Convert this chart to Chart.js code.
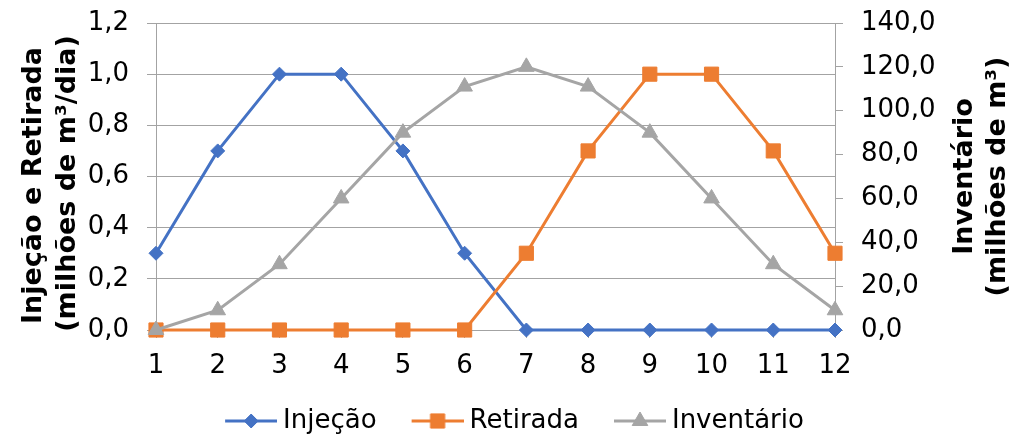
<!DOCTYPE html>
<html>
<head>
<meta charset="utf-8">
<script src="https://cdn.jsdelivr.net/npm/chart.js@4/dist/chart.umd.min.js"></script>
<style>
  html, body { margin: 0; padding: 0; background: #ffffff; }
  #wrap { width: 1012px; height: 436px; position: relative; }
</style>
</head>
<body>
<div id="wrap"><canvas id="chart"></canvas></div>
<script>
// Meses do ciclo anual
const months = ['1', '2', '3', '4', '5', '6', '7', '8', '9', '10', '11', '12'];

// Vazões (milhões de m³/dia)
const injecao  = [0.3, 0.7, 1.0, 1.0, 0.7, 0.3, 0, 0, 0, 0, 0, 0];
const retirada = [0, 0, 0, 0, 0, 0, 0.3, 0.7, 1.0, 1.0, 0.7, 0.3];

// Volume armazenado (milhões de m³)
const inventario = [0, 9, 30, 60, 90, 111, 120, 111, 90, 60, 30, 9];

const seriesNames = ['Injeção', 'Retirada', 'Inventário'];

const leftTickLabels  = ['0,0', '0,2', '0,4', '0,6', '0,8', '1,0', '1,2'];
const rightTickLabels = ['0,0', '20,0', '40,0', '60,0', '80,0', '100,0', '120,0', '140,0'];

const leftTitle  = ['Injeção e Retirada', '(milhões de m³/dia)'];
const rightTitle = ['Inventário', '(milhões de m³)'];

const FONT = '"DejaVu Sans", Verdana, sans-serif';
const GRID = '#a3a3a3';
const BLUE = '#4472C4', ORANGE = '#ED7D31', GRAY = '#A5A5A5';

// Marker shapes used both on the lines and in the legend icons
function drawMarker(ctx, style, r, x, y) {
  ctx.beginPath();
  if (style === 'rectRot') {
    ctx.moveTo(x - r, y); ctx.lineTo(x, y - r); ctx.lineTo(x + r, y); ctx.lineTo(x, y + r);
  } else if (style === 'rect') {
    const s = r * Math.SQRT1_2;
    ctx.rect(x - s, y - s, 2 * s, 2 * s);
  } else {
    ctx.moveTo(x, y - r);
    ctx.lineTo(x + r * Math.sin(2 * Math.PI / 3), y - r * Math.cos(2 * Math.PI / 3));
    ctx.lineTo(x - r * Math.sin(2 * Math.PI / 3), y - r * Math.cos(2 * Math.PI / 3));
  }
  ctx.closePath();
  ctx.fill();
  ctx.stroke();
}

// Legend icon: a short line with the series marker in the middle
function legendIcon(ds) {
  const c = document.createElement('canvas');
  c.width = 94; c.height = 22;
  const g = c.getContext('2d');
  g.strokeStyle = ds.borderColor;
  g.lineWidth = 3;
  g.beginPath(); g.moveTo(42, 11); g.lineTo(94, 11); g.stroke();
  g.fillStyle = ds.pointBackgroundColor;
  g.strokeStyle = ds.pointBorderColor;
  g.lineWidth = 1;
  drawMarker(g, ds.pointStyle, ds.pointRadius, 68, 11);
  return c;
}

// Rotated axis titles, read from bottom to top on both sides
const axisTitles = {
  id: 'axisTitles',
  afterDraw(chart) {
    const { ctx, chartArea, width } = chart;
    const midY = (chartArea.top + chartArea.bottom) / 2;
    ctx.save();
    ctx.font = 'bold 27px ' + FONT;
    ctx.fillStyle = '#000000';
    ctx.textAlign = 'center';
    ctx.textBaseline = 'alphabetic';
    const put = (text, x, y) => {
      ctx.save(); ctx.translate(x, y); ctx.rotate(-Math.PI / 2); ctx.fillText(text, 0, 0); ctx.restore();
    };
    put(leftTitle[0], 41, midY + 9);
    put(leftTitle[1], 75, midY + 7);
    put(rightTitle[0], width - 40, midY);
    put(rightTitle[1], width - 7, midY);
    ctx.restore();
  }
};

// Fixed axis box sizes; the end-label padding of the value axes is dropped
// so that the plot area keeps its own top margin
function fixWidth(w) {
  return s => { s.width = w; s.paddingTop = 0; s.paddingBottom = 0; };
}

const tickFont = { family: FONT, size: 26 };

new Chart(document.getElementById('chart'), {
  type: 'line',
  data: {
    labels: months,
    datasets: [
      {
        label: seriesNames[0], data: injecao, yAxisID: 'y', order: 3,
        borderColor: BLUE, backgroundColor: BLUE, borderWidth: 3,
        pointStyle: 'rectRot', pointRadius: 7, pointBackgroundColor: BLUE, pointBorderColor: BLUE, pointBorderWidth: 1,
        tension: 0, clip: false
      },
      {
        label: seriesNames[1], data: retirada, yAxisID: 'y', order: 2,
        borderColor: ORANGE, backgroundColor: ORANGE, borderWidth: 3,
        pointStyle: 'rect', pointRadius: 10, pointBackgroundColor: ORANGE, pointBorderColor: ORANGE, pointBorderWidth: 1,
        tension: 0, clip: false
      },
      {
        label: seriesNames[2], data: inventario, yAxisID: 'y1', order: 1,
        borderColor: GRAY, backgroundColor: GRAY, borderWidth: 3,
        pointStyle: 'triangle', pointRadius: 9, pointBackgroundColor: GRAY, pointBorderColor: GRAY, pointBorderWidth: 1,
        tension: 0, clip: false
      }
    ]
  },
  options: {
    responsive: true,
    maintainAspectRatio: false,
    animation: false,
    devicePixelRatio: 1,
    layout: { padding: { left: 0, right: 18, top: 23, bottom: 0 } },
    plugins: {
      title: { display: false },
      tooltip: { enabled: false },
      legend: {
        display: true,
        position: 'bottom',
        maxHeight: 28,
        labels: {
          usePointStyle: true,
          pointStyleWidth: 80,
          padding: 0,
          color: '#000000',
          font: { family: FONT, size: 26 },
          generateLabels(chart) {
            const items = Chart.defaults.plugins.legend.labels.generateLabels(chart);
            items.sort((a, b) => a.datasetIndex - b.datasetIndex);
            items.forEach(it => { it.pointStyle = legendIcon(chart.data.datasets[it.datasetIndex]); });
            return items;
          }
        }
      }
    },
    scales: {
      x: {
        type: 'category',
        offset: false,
        grid: { drawOnChartArea: false, drawTicks: true, tickLength: 8, color: GRID },
        border: { display: true, color: GRID, width: 1 },
        ticks: { color: '#000000', font: tickFont, padding: 13, maxRotation: 0, autoSkip: false },
        afterFit(s) { s.height = 78; }
      },
      y: {
        position: 'left',
        min: 0, max: 1.2,
        grid: { color: GRID, tickLength: 9 },
        border: { display: true, color: GRID, width: 1 },
        ticks: { stepSize: 0.2, color: '#000000', font: tickFont, padding: 18,
                 callback: (v, i) => leftTickLabels[i] },
        afterFit: fixWidth(156)
      },
      y1: {
        position: 'right',
        min: 0, max: 140,
        grid: { drawOnChartArea: false, color: GRID, tickLength: 8 },
        border: { display: true, color: GRID, width: 1 },
        ticks: { stepSize: 20, color: '#000000', font: tickFont, padding: 18,
                 callback: (v, i) => rightTickLabels[i] },
        afterFit: fixWidth(159)
      }
    }
  },
  plugins: [axisTitles]
});
</script>
</body>
</html>
